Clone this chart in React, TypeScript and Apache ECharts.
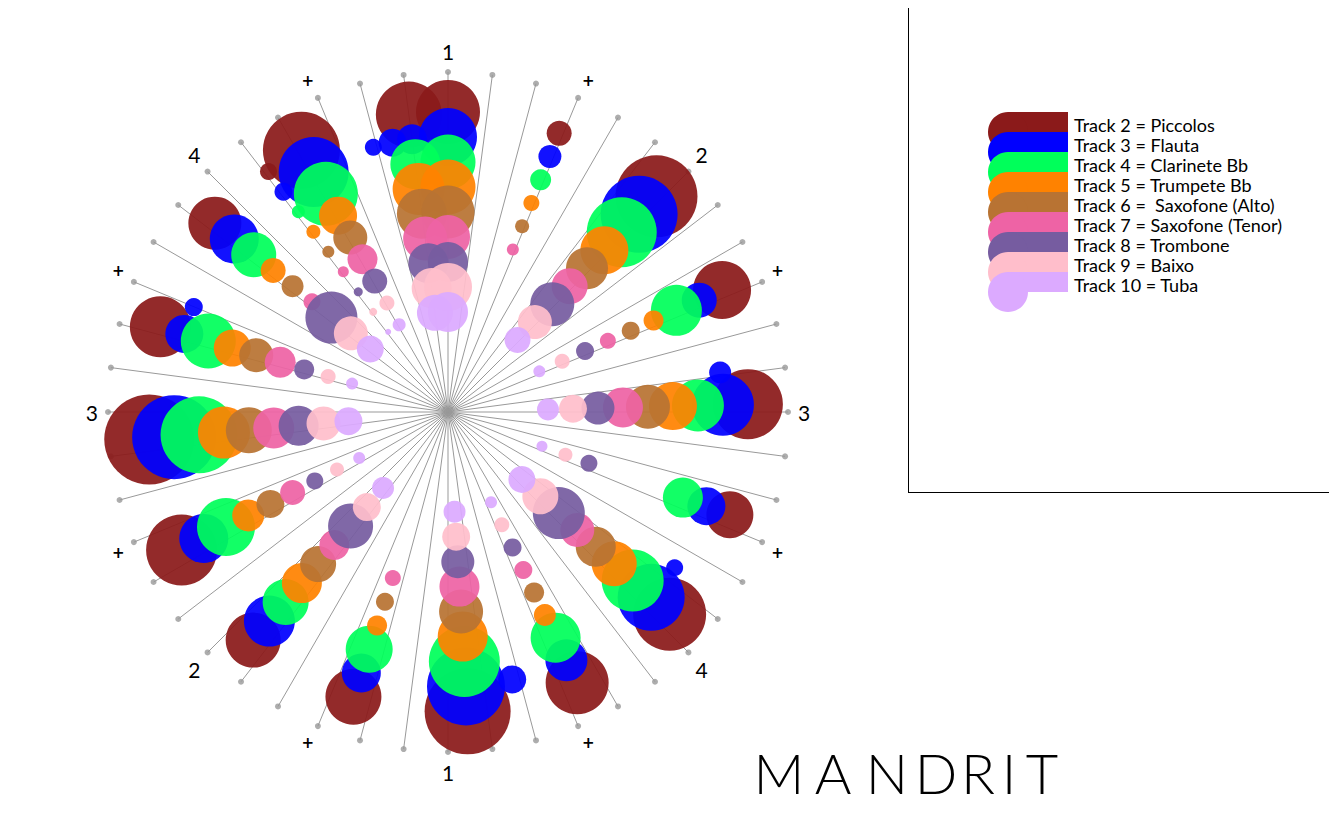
import React, { useEffect, useRef } from "react";
import * as echarts from "echarts";

// Track names and colours (outer ring = Track 2, inner ring = Track 10)
const trackNames = [
  "Track 2 = Piccolos",
  "Track 3 = Flauta",
  "Track 4 = Clarinete Bb",
  "Track 5 = Trumpete Bb",
  "Track 6 =  Saxofone (Alto)",
  "Track 7 = Saxofone (Tenor)",
  "Track 8 = Trombone",
  "Track 9 = Baixo",
  "Track 10 = Tuba",
];
const trackColors = [
  "#8b1a1a",
  "#0000ff",
  "#00ff5a",
  "#ff8200",
  "#b87333",
  "#ee63a5",
  "#765ca0",
  "#ffbecb",
  "#dcaaff",
];

// Notes per track: [position on the 48-step circle, circle diameter]
const piccolos = [[47, 66], [0, 64], [2.9, 25], [5.87, 82], [8.8, 58], [11.8, 70], [14.67, 47], [17.65, 73], [20.6, 63], [23.5, 86], [26.45, 56], [29.4, 55], [32.35, 71], [35.3, 90], [38.2, 61], [41.2, 53], [43.1, 17], [44.1, 77]];
const flauta = [[45.9, 17], [46.45, 28], [47, 30], [0, 58], [2.9, 23], [5.87, 77], [8.8, 35], [10.9, 22], [11.8, 62], [14.67, 38], [16.6, 17], [17.65, 67], [20.6, 42], [22.2, 28], [23.5, 78], [26.45, 39], [29.4, 51], [32.35, 49], [35.3, 84], [38.2, 38], [38.99, 18], [41.2, 49], [43.1, 18], [44.1, 70]];
const clarinete = [[47, 50], [0, 55], [2.9, 21], [5.87, 70], [8.8, 51], [11.8, 52], [14.67, 40], [17.65, 62], [20.6, 50], [23.5, 71], [26.45, 47], [29.4, 46], [32.35, 58], [35.3, 77], [38.2, 55], [41.2, 45], [43.1, 13], [44.1, 64]];
const trumpete = [[47, 52], [0, 55], [2.9, 16], [5.87, 48], [8.8, 20], [11.8, 48], [17.65, 45], [20.6, 22], [23.5, 50], [26.45, 20], [29.4, 40], [32.35, 32], [35.3, 52], [38.2, 37], [41.2, 25], [43.1, 14], [44.1, 38]];
const saxAlto = [[47, 50], [0, 53], [2.9, 14], [5.87, 42], [8.8, 18], [11.8, 44], [17.65, 40], [20.6, 20], [23.5, 44], [26.45, 18], [29.4, 36], [32.35, 28], [35.3, 46], [38.2, 34], [41.2, 22], [43.1, 12], [44.1, 34]];
const saxTenor = [[47, 44], [0, 44], [2.9, 12], [5.87, 36], [8.8, 16], [11.8, 40], [17.65, 34], [20.6, 18], [23.5, 40], [26.45, 16], [29.4, 30], [32.35, 25], [35.3, 41], [38.2, 31], [41.2, 17], [43.1, 11], [44.1, 30]];
const trombone = [[47, 40], [0, 40], [5.87, 44], [8.8, 18], [11.8, 33], [14.67, 17], [17.65, 52], [20.6, 18], [23.5, 33], [29.4, 45], [32.35, 17], [35.3, 40], [38.2, 20], [41.2, 52], [43.1, 9], [44.1, 25]];
const baixo = [[47, 40], [0, 48], [5.87, 34], [8.8, 15], [11.8, 28], [14.67, 14], [17.65, 36], [20.6, 15], [23.5, 28], [29.4, 28], [32.35, 14], [35.3, 34], [38.2, 15], [41.2, 34], [43.1, 8], [44.1, 15]];
const tuba = [[47, 36], [0, 40], [5.87, 26], [8.8, 12], [11.8, 22], [14.67, 11], [17.65, 27], [20.6, 12], [23.5, 22], [29.4, 22], [32.35, 12], [35.3, 28], [38.2, 12], [41.2, 27], [43.1, 6], [44.1, 13]];
const trackNotes = [piccolos, flauta, clarinete, trumpete, saxAlto, saxTenor, trombone, baixo, tuba];

// Beat labels every 3 steps
const beatLabels = ["1", "+", "2", "+", "3", "+", "4", "+", "1", "+", "2", "+", "3", "+", "4", "+"];
const STEPS = 48;
const titleLetters = ["M", "A", "N", "D", "R", "I", "T"];

export default function App() {
  const ref = useRef<HTMLDivElement>(null);
  useEffect(() => {
    if (!ref.current) return;
    const chart = echarts.init(ref.current, null, { renderer: "svg" });
    const outer = 13.6;
    const spokeDots = Array.from({ length: STEPS }, (_, i) => [outer, i]);
    const series: any[] = [
      {
        type: "scatter",
        coordinateSystem: "polar",
        data: spokeDots,
        symbolSize: 6,
        itemStyle: { color: "#999" },
        silent: true,
        z: 1,
      },
    ];
    trackNotes.forEach((notes, ti) => {
      series.push({
        name: trackNames[ti],
        type: "scatter",
        coordinateSystem: "polar",
        data: notes.map(([a, d]) => [12 - ti, a, d]),
        symbolSize: (v: number[]) => v[2],
        itemStyle: { color: trackColors[ti], opacity: 0.93 },
        z: 2 + ti,
      });
    });

    const graphic: any[] = [
      { type: "line", shape: { x1: 908.5, y1: 8, x2: 908.5, y2: 492.5 }, style: { stroke: "#000", lineWidth: 1 } },
      { type: "line", shape: { x1: 908, y1: 492.5, x2: 1329, y2: 492.5 }, style: { stroke: "#000", lineWidth: 1 } },
    ];
    trackNames.forEach((name, i) => {
      const y = 112 + 20 * i;
      graphic.push({ type: "rect", shape: { x: 1008, y, width: 60, height: 20 }, style: { fill: trackColors[i] } });
      graphic.push({ type: "circle", shape: { cx: 1008, cy: y + 20, r: 20 }, style: { fill: trackColors[i] } });
    });
    trackNames.forEach((name, i) => {
      graphic.push({
        type: "text",
        x: 1074,
        y: 125 + 20 * i,
        style: { text: name, fill: "#000", fontFamily: "Lato", fontSize: 18, lineHeight: 18, verticalAlign: "middle" },
      });
    });
    const letterX = [779, 833, 887, 936, 978, 1009, 1042];
    titleLetters.forEach((ch, i) => {
      graphic.push({
        type: "text",
        x: letterX[i],
        y: 772,
        style: {
          text: ch,
          fill: "#000",
          fontFamily: "Lato",
          fontWeight: 300,
          fontSize: 56,
          align: "center",
          verticalAlign: "middle",
        },
      });
    });

    chart.setOption({
      animation: false,
      backgroundColor: "#fff",
      polar: { center: [448, 412], radius: 340 },
      angleAxis: {
        type: "value",
        min: 0,
        max: STEPS,
        interval: 1,
        startAngle: 90,
        clockwise: true,
        axisLine: { show: false },
        axisTick: { show: false },
        axisLabel: {
          show: true,
          margin: 10,
          formatter: (v: number) => {
            if (v % 3 !== 0 || v >= STEPS) return "";
            const t = beatLabels[v / 3];
            return t === "+" ? "{p|+}" : "{n|" + t + "}";
          },
          rich: {
            p: { fontFamily: "DejaVu Sans", fontWeight: "bold", fontSize: 15, color: "#000" },
            n: { fontFamily: "Lato", fontWeight: "normal", fontSize: 21, color: "#000" },
          },
        },
        splitLine: { show: true, lineStyle: { color: "#999", width: 1 } },
      },
      radiusAxis: {
        type: "value",
        min: 0,
        max: outer,
        axisLine: { show: false },
        axisTick: { show: false },
        axisLabel: { show: false },
        splitLine: { show: false },
      },
      series,
      graphic,
    });
    return () => chart.dispose();
  }, []);
  return (
    <div
      ref={ref}
      style={{ position: "absolute", left: 0, top: 0, width: 1337, height: 832 }}
    />
  );
}
